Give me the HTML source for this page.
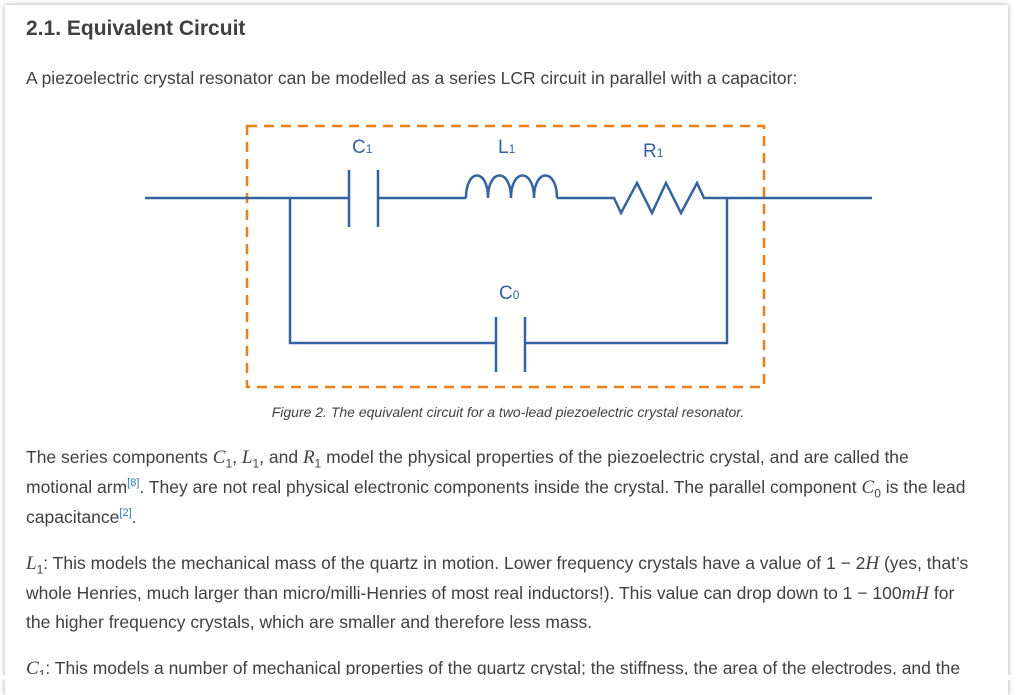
<!DOCTYPE html>
<html><head><meta charset="utf-8"><style>
body{margin:0;width:1018px;height:680px;background:#fff;overflow:hidden;position:relative;font-family:"Liberation Sans",sans-serif;color:#404040}
.card{position:absolute;left:5px;top:5px;width:1003px;height:690px;background:#fff;box-shadow:0 0 5px rgba(0,0,0,.35)}
.t{position:absolute;left:26px;white-space:nowrap;font-size:17.5px}
i.m{font-family:"Liberation Serif",serif;font-size:19px}
sub{font-size:12px}
sup{font-size:11px;color:#2980b9}
</style></head><body>
<div class="card"></div>
<div class="t" style="top:17px;font-size:21px;font-weight:bold;">2.1. Equivalent Circuit</div>
<div class="t" style="top:68px;">A piezoelectric crystal resonator can be modelled as a series LCR circuit in parallel with a capacitor:</div>
<svg style="position:absolute;left:0;top:0" width="1018" height="680">
<rect x="247" y="126" width="517" height="261" fill="none" stroke="#ee7d1a" stroke-width="2.5" stroke-dasharray="10,7"/>
<g stroke="#3462a0" stroke-width="2.5" fill="none">
<path d="M145 198H349M378 198H466M557 198H614L621 213L637 183L652 213L666 183L681 213L697 183L704 198H872"/>
<path d="M349 170V227M378 170V227"/>
<path d="M466 198C466 168 488 168 488 198C488 168 511 168 511 198C511 168 534 168 534 198C534 168 557 168 557 198"/>
<path d="M290 198V343H496M525 343H727V198"/>
<path d="M496 317V372M525 317V372"/>
</g>
<g fill="#3462a0" font-family="Liberation Sans,sans-serif" font-size="19">
<text x="352" y="153">C<tspan font-size="12">1</tspan></text>
<text x="498" y="153">L<tspan font-size="12">1</tspan></text>
<text x="643" y="157">R<tspan font-size="12">1</tspan></text>
<text x="499" y="299">C<tspan font-size="12">0</tspan></text>
</g>
<text x="508" y="417" text-anchor="middle" font-family="Liberation Sans,sans-serif" font-size="14" font-style="italic" fill="#404040">Figure 2. The equivalent circuit for a two-lead piezoelectric crystal resonator.</text>
</svg>
<div class="t" style="top:447px;">The series components <i class="m">C</i><sub>1</sub>, <i class="m">L</i><sub>1</sub>, and <i class="m">R</i><sub>1</sub> model the physical properties of the piezoelectric crystal, and are called the</div>
<div class="t" style="top:477px;">motional arm<sup>[8]</sup>. They are not real physical electronic components inside the crystal. The parallel component <i class="m">C</i><sub>0</sub> is the lead</div>
<div class="t" style="top:507px;">capacitance<sup>[2]</sup>.</div>
<div class="t" style="top:553px;"><i class="m">L</i><sub>1</sub>: This models the mechanical mass of the quartz in motion. Lower frequency crystals have a value of 1 − 2<i class="m">H</i> (yes, that’s</div>
<div class="t" style="top:583px;">whole Henries, much larger than micro/milli-Henries of most real inductors!). This value can drop down to 1 − 100<i class="m">mH</i> for</div>
<div class="t" style="top:612px;">the higher frequency crystals, which are smaller and therefore less mass.</div>
<div class="t" style="top:658px;"><i class="m">C</i><sub>1</sub>: This models a number of mechanical properties of the quartz crystal; the stiffness, the area of the electrodes, and the</div>
<div style="position:absolute;left:0;top:675px;width:1018px;height:5px;background:#fff"></div>
</body></html>
